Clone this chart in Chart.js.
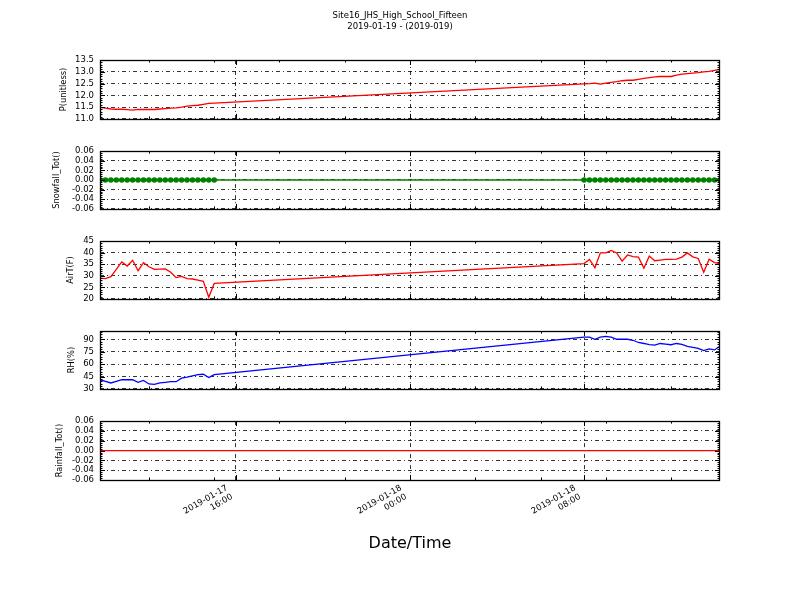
<!DOCTYPE html>
<html lang="en">
<head>
<meta charset="UTF-8">
<title>Site16_JHS_High_School_Fifteen</title>
<script src="https://cdn.jsdelivr.net/npm/chart.js@4.4.0/dist/chart.umd.min.js"></script>
<style>
  body { margin: 0; background: #fff; }
  #wrap { position: relative; width: 800px; height: 600px; }
  canvas { position: absolute; left: 0; }
</style>
</head>
<body>
<div id="wrap">
  <canvas id="c0" width="800" height="130" style="top:0px"></canvas>
  <canvas id="c1" width="800" height="80" style="top:140px"></canvas>
  <canvas id="c2" width="800" height="80" style="top:230px"></canvas>
  <canvas id="c3" width="800" height="80" style="top:320px"></canvas>
  <canvas id="c4" width="800" height="190" style="top:410px"></canvas>
</div>
<script>
// observation times (15 min), two blocks with a gap overnight
const times = [
  '2019-01-17 09:45', '2019-01-17 10:00', '2019-01-17 10:15', '2019-01-17 10:30', '2019-01-17 10:45',
  '2019-01-17 11:00', '2019-01-17 11:15', '2019-01-17 11:30', '2019-01-17 11:45', '2019-01-17 12:00',
  '2019-01-17 12:15', '2019-01-17 12:30', '2019-01-17 12:45', '2019-01-17 13:00', '2019-01-17 13:15',
  '2019-01-17 13:30', '2019-01-17 13:45', '2019-01-17 14:00', '2019-01-17 14:15', '2019-01-17 14:30',
  '2019-01-17 14:45', '2019-01-17 15:00',
  '2019-01-18 08:00', '2019-01-18 08:15', '2019-01-18 08:30', '2019-01-18 08:45', '2019-01-18 09:00',
  '2019-01-18 09:15', '2019-01-18 09:30', '2019-01-18 09:45', '2019-01-18 10:00', '2019-01-18 10:15',
  '2019-01-18 10:30', '2019-01-18 10:45', '2019-01-18 11:00', '2019-01-18 11:15', '2019-01-18 11:30',
  '2019-01-18 11:45', '2019-01-18 12:00', '2019-01-18 12:15', '2019-01-18 12:30', '2019-01-18 12:45',
  '2019-01-18 13:00', '2019-01-18 13:15', '2019-01-18 13:30', '2019-01-18 13:45', '2019-01-18 14:00',
  '2019-01-18 14:15'
];

const pressure = [
  11.49, 11.46, 11.42, 11.41, 11.41, 11.39, 11.37, 11.40, 11.40, 11.40, 11.40,
  11.42, 11.44, 11.46, 11.47, 11.50, 11.54, 11.56, 11.58, 11.62, 11.66, 11.67,
  12.49, 12.50, 12.52, 12.48, 12.52, 12.55, 12.58, 12.62, 12.64, 12.64, 12.68, 12.72, 12.75,
  12.78, 12.80, 12.80, 12.80, 12.86, 12.90, 12.92, 12.94, 12.96, 13.00, 13.02, 13.06, 13.10
];
const snowfall = [
  0, 0, 0, 0, 0, 0, 0, 0, 0, 0, 0, 0, 0, 0, 0, 0, 0, 0, 0, 0, 0, 0,
  0, 0, 0, 0, 0, 0, 0, 0, 0, 0, 0, 0, 0, 0, 0, 0, 0, 0, 0, 0, 0, 0, 0, 0, 0, 0
];
const airTemp = [
  29.0, 28.8, 29.6, 32.8, 36.0, 34.2, 36.7, 32.2, 35.7, 33.9, 32.8,
  32.9, 33.0, 31.5, 29.2, 29.7, 28.8, 28.6, 28.1, 27.6, 20.7, 26.7,
  35.3, 37.1, 33.5, 39.9, 39.9, 41.0, 39.9, 36.3, 39.0, 38.3, 38.1, 33.3, 38.5,
  36.5, 36.8, 37.1, 37.1, 37.2, 38.1, 39.9, 38.2, 37.5, 31.5, 37.2, 35.7, 35.3
];
const relHum = [
  41.1, 39.2, 37.2, 39.2, 41.1, 41.1, 41.1, 38.0, 40.3, 36.0, 35.6,
  37.2, 38.0, 38.7, 38.7, 43.0, 44.2, 45.7, 47.3, 47.7, 43.8, 47.3,
  92.8, 92.8, 90.1, 92.8, 93.6, 92.8, 90.1, 90.1, 90.1, 88.9, 86.2, 85.0, 83.5,
  83.1, 85.0, 84.2, 83.5, 85.0, 83.9, 81.5, 80.4, 79.2, 76.5, 78.4, 77.2, 81.9
];
const rainfall = [
  0, 0, 0, 0, 0, 0, 0, 0, 0, 0, 0, 0, 0, 0, 0, 0, 0, 0, 0, 0, 0, 0,
  0, 0, 0, 0, 0, 0, 0, 0, 0, 0, 0, 0, 0, 0, 0, 0, 0, 0, 0, 0, 0, 0, 0, 0, 0, 0
];

// axis ticks
const xMajorHours = [16, 24, 32];
const xMinorHours = [12, 15, 18, 21, 27, 30, 33, 36];
const xTickLabels = [['2019-01-17', '16:00'], ['2019-01-18', '00:00'], ['2019-01-18', '08:00']];
const yTicksP = [11.0, 11.5, 12.0, 12.5, 13.0, 13.5];
const yTicksSnow = [-0.06, -0.04, -0.02, 0.00, 0.02, 0.04, 0.06];
const yTicksAirT = [20, 25, 30, 35, 40, 45];
const yTicksRH = [30, 45, 60, 75, 90];
const yTicksRain = [-0.06, -0.04, -0.02, 0.00, 0.02, 0.04, 0.06];

const chartTitle = ['Site16_JHS_High_School_Fifteen', '2019-01-19 - (2019-019)'];

Chart.defaults.font.family = "'DejaVu Sans', sans-serif";
Chart.defaults.color = '#000';

function toHours(s) {
  // hours since 2019-01-17 00:00
  const day = parseInt(s.slice(8, 10)) - 17;
  return day * 24 + parseInt(s.slice(11, 13)) + parseInt(s.slice(14, 16)) / 60;
}
const xMin = toHours(times[0]);
const xMax = toHours(times[times.length - 1]);
const gridDash = [4, 3, 1, 3];

// box around the plot + inward ticks on all four sides
const frameTicks = {
  id: 'frameTicks',
  afterDraw(chart, args, opts) {
    const {ctx, chartArea: a, scales} = chart;
    const xs = scales.x, ys = scales.y;
    ctx.save();
    ctx.strokeStyle = '#000';
    ctx.lineWidth = 1;
    ctx.beginPath();
    const vtick = (h, len) => {
      const p = Math.round(xs.getPixelForValue(h)) + 0.5;
      ctx.moveTo(p, a.top); ctx.lineTo(p, a.top + len);
      ctx.moveTo(p, a.bottom); ctx.lineTo(p, a.bottom - len);
    };
    const htick = (v, len) => {
      const p = Math.round(ys.getPixelForValue(v)) + 0.5;
      ctx.moveTo(a.left, p); ctx.lineTo(a.left + len, p);
      ctx.moveTo(a.right, p); ctx.lineTo(a.right - len, p);
    };
    xMajorHours.forEach(h => vtick(h, 5));
    xMinorHours.forEach(h => vtick(h, 2.5));
    const yt = opts.yTicks;
    const step = (yt[1] - yt[0]) / 5;
    const n = Math.round((ys.max - ys.min) / step);
    for (let i = 0; i <= n; i++) htick(ys.min + i * step, 2.5);
    yt.forEach(v => htick(v, 5));
    ctx.stroke();
    ctx.lineWidth = 1.3;
    ctx.strokeRect(Math.round(a.left) + 0.5, Math.round(a.top) + 0.5, Math.round(a.width) - 1, Math.round(a.height));
    ctx.restore();
  }
};

function fmt(v, d) {
  return v.toFixed(d);
}

function panel(id, cfg) {
  const points = times.map((t, i) => ({x: toHours(t), y: cfg.values[i]}));
  return new Chart(document.getElementById(id), {
    type: 'line',
    data: {
      datasets: [{
        data: points,
        borderColor: cfg.color,
        backgroundColor: cfg.color,
        borderWidth: 1.3,
        pointRadius: cfg.pointRadius || 0,
        pointBorderWidth: 0,
        tension: 0,
        clip: 0
      }]
    },
    options: {
      responsive: false,
      animation: false,
      events: [],
      layout: { padding: { left: 0, right: 0, top: cfg.padTop, bottom: 0 } },
      plugins: {
        legend: { display: false },
        tooltip: { enabled: false },
        title: cfg.title || { display: false },
        frameTicks: { yTicks: cfg.yTicks }
      },
      scales: {
        x: {
          type: 'linear',
          min: xMin,
          max: xMax,
          afterBuildTicks: s => { s.ticks = xMajorHours.map(v => ({value: v})); },
          afterFit: s => { s.height = cfg.xHeight; },
          grid: { color: '#000', lineWidth: 0.8, drawTicks: false },
          border: { display: false, dash: gridDash },
          ticks: {
            display: !!cfg.showX,
            autoSkip: false,
            minRotation: 30,
            maxRotation: 30,
            padding: 3,
            labelOffset: -9,
            font: { size: 8.5 },
            callback: v => xTickLabels[xMajorHours.indexOf(v)]
          },
          title: cfg.xTitle || { display: false }
        },
        y: {
          min: cfg.yMin,
          max: cfg.yMax,
          afterBuildTicks: s => { s.ticks = cfg.yTicks.map(v => ({value: v})); },
          afterFit: s => { s.width = 100; },
          grid: { color: '#000', lineWidth: 0.8, drawTicks: false },
          border: { display: false, dash: gridDash },
          ticks: {
            autoSkip: false,
            padding: 6,
            font: { size: 8.5 },
            callback: v => fmt(v, cfg.decimals)
          },
          title: {
            display: true,
            text: cfg.yLabel,
            font: { size: 8.3 },
            padding: { top: cfg.yLabelPad, bottom: 0 }
          }
        },
        yr: {
          position: 'right',
          afterFit: s => { s.width = 80; },
          grid: { display: false },
          border: { display: false },
          ticks: { display: false }
        }
      }
    },
    plugins: [frameTicks]
  });
}

panel('c0', {
  values: pressure, color: '#ff0000', yMin: 11.0, yMax: 13.5, yTicks: yTicksP, decimals: 1,
  yLabel: 'P(unitless)', yLabelPad: 58.7, padTop: 0, xHeight: 10,
  title: {
    display: true, text: chartTitle, font: { size: 8.5, weight: 'normal' }, color: '#000',
    padding: { top: 11, bottom: 28.6 }
  }
});
panel('c1', {
  values: snowfall, color: '#008000', pointRadius: 2.8, yMin: -0.06, yMax: 0.06, yTicks: yTicksSnow,
  decimals: 2, yLabel: 'Snowfall_Tot()', yLabelPad: 52.2, padTop: 10, xHeight: 10
});
panel('c2', {
  values: airTemp, color: '#ff0000', yMin: 20, yMax: 45, yTicks: yTicksAirT, decimals: 0,
  yLabel: 'AirT(F)', yLabelPad: 66.2, padTop: 10, xHeight: 10
});
panel('c3', {
  values: relHum, color: '#0000ff', yMin: 30, yMax: 100, yTicks: yTicksRH, decimals: 0,
  yLabel: 'RH(%)', yLabelPad: 67, padTop: 10, xHeight: 10
});
panel('c4', {
  values: rainfall, color: '#ff0000', yMin: -0.06, yMax: 0.06, yTicks: yTicksRain, decimals: 2,
  yLabel: 'Rainfall_Tot()', yLabelPad: 54.5, padTop: 10, xHeight: 120, showX: true,
  xTitle: { display: true, text: 'Date/Time', font: { size: 16 }, color: '#000', padding: { top: 0, bottom: 46.4 } }
});
</script>
</body>
</html>
